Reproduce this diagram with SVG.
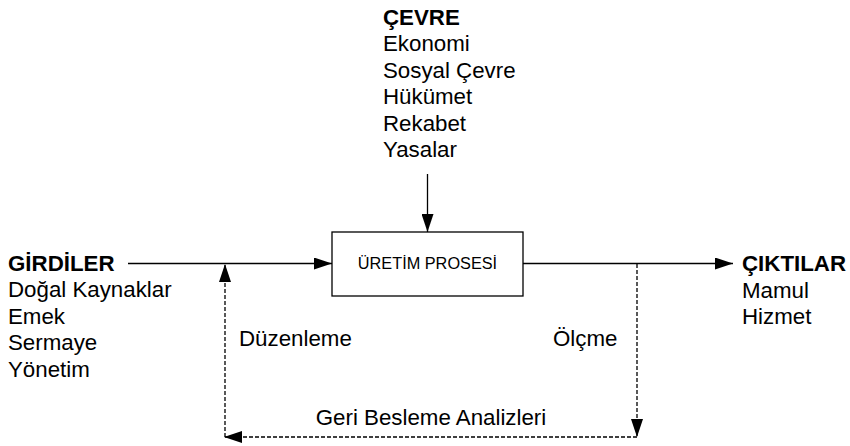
<svg xmlns="http://www.w3.org/2000/svg" width="850" height="446" viewBox="0 0 850 446">
  <defs>
    <style>
      text { font-family: "Liberation Sans", Arial, sans-serif; fill: #000; }
      .lbl { font-size: 22.3px; }
      .head { font-size: 22.3px; font-weight: bold; }
      .box-lbl { font-size: 16.3px; }
      .solid { stroke: #000; stroke-width: 1.3; fill: none; }
      .dash { stroke: #000; stroke-width: 1.3; fill: none; stroke-dasharray: 4 2; }
    </style>
    <marker id="arrow" viewBox="0 0 18 12" refX="18" refY="6" markerWidth="18" markerHeight="12" markerUnits="userSpaceOnUse" orient="auto">
      <path d="M0,0 L18,6 L0,12 Z" fill="#000"/>
    </marker>
  </defs>

  <rect width="850" height="446" fill="#fff"/>

  <!-- Environment inputs -->
  <g id="cevre">
    <text class="head" x="383" y="24.5">ÇEVRE</text>
    <text class="lbl" x="383" y="51">Ekonomi</text>
    <text class="lbl" x="383" y="77.5">Sosyal Çevre</text>
    <text class="lbl" x="383" y="104">Hükümet</text>
    <text class="lbl" x="383" y="130.5">Rekabet</text>
    <text class="lbl" x="383" y="157">Yasalar</text>
  </g>

  <!-- Inputs -->
  <g id="girdiler">
    <text class="head" x="8" y="271">GİRDİLER</text>
    <text class="lbl" x="8" y="297">Doğal Kaynaklar</text>
    <text class="lbl" x="8" y="323.5">Emek</text>
    <text class="lbl" x="8" y="350">Sermaye</text>
    <text class="lbl" x="8" y="376.5">Yönetim</text>
  </g>

  <!-- Production process -->
  <g id="uretim">
    <rect x="332" y="232" width="191" height="64" fill="#fff" stroke="#000" stroke-width="1.3"/>
    <text class="box-lbl" x="427.5" y="269" text-anchor="middle">ÜRETİM PROSESİ</text>
  </g>

  <!-- Outputs -->
  <g id="ciktilar">
    <text class="head" x="742" y="271">ÇIKTILAR</text>
    <text class="lbl" x="742" y="297.5">Mamul</text>
    <text class="lbl" x="742" y="324">Hizmet</text>
  </g>

  <!-- Connectors -->
  <g id="connectors">
    <line class="solid" x1="427.5" y1="174" x2="427.5" y2="232" marker-end="url(#arrow)"/>
    <line class="solid" x1="128" y1="263.5" x2="332" y2="263.5" marker-end="url(#arrow)"/>
    <line class="solid" x1="523" y1="263.5" x2="733" y2="263.5" marker-end="url(#arrow)"/>
    <line class="dash" x1="637" y1="264" x2="637" y2="437" marker-end="url(#arrow)"/>
    <line class="dash" x1="637" y1="437" x2="224" y2="437" marker-end="url(#arrow)"/>
    <line class="dash" x1="225" y1="437" x2="225" y2="264" marker-end="url(#arrow)"/>
  </g>

  <!-- Feedback labels -->
  <g id="feedback-labels">
    <text class="lbl" x="239" y="346">Düzenleme</text>
    <text class="lbl" x="553" y="346">Ölçme</text>
    <text class="lbl" x="431" y="425" text-anchor="middle">Geri Besleme Analizleri</text>
  </g>
</svg>
